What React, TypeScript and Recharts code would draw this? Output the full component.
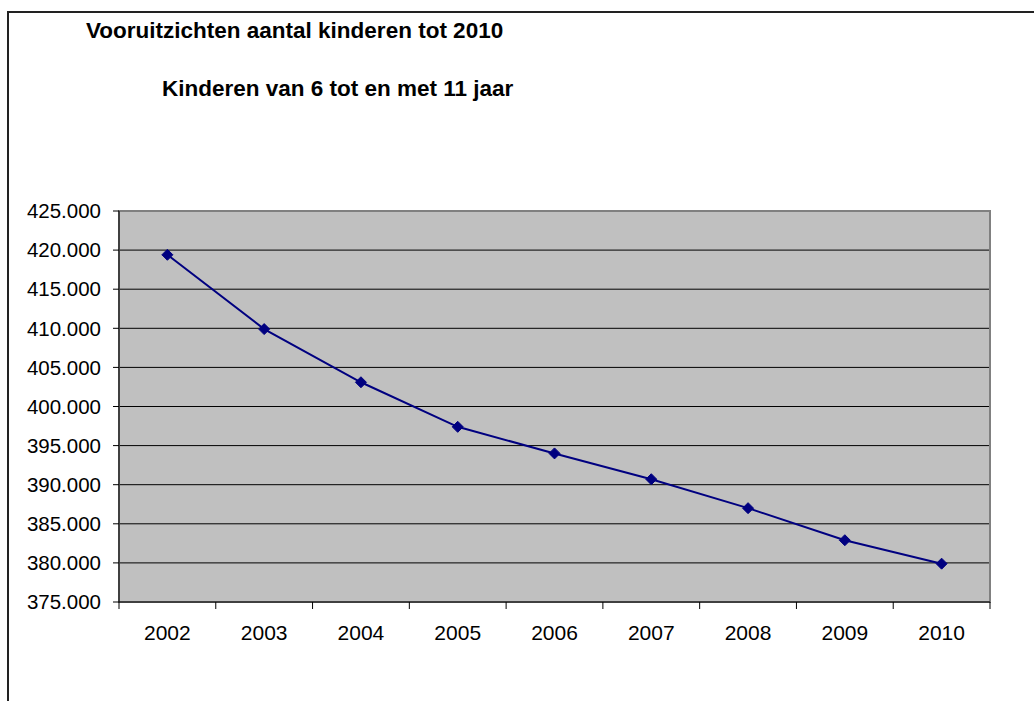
import { LineChart, Line, XAxis, YAxis, CartesianGrid, ReferenceArea } from 'recharts';

const years = [2002, 2003, 2004, 2005, 2006, 2007, 2008, 2009, 2010];
const children = [419400, 409900, 403100, 397400, 394000, 390700, 387000, 382900, 379900];
const yTicks = [375000, 380000, 385000, 390000, 395000, 400000, 405000, 410000, 415000, 420000, 425000];

const data = years.map((year, i) => ({ year, value: children[i] }));

// ticks at the category edges (marks) and centres (labels)
const xTicks = [...years.flatMap((y) => [y - 0.5, y]), years[years.length - 1] + 0.5];

const font = 'Liberation Sans, Arial, sans-serif';

const formatThousands = (v: number) => {
  const k = Math.floor(v / 1000);
  const rest = String(v % 1000).padStart(3, '0');
  return `${k}.${rest}`;
};

// Year labels in the middle, tick marks between categories
const YearTick = (props: any) => {
  const { x, y, payload } = props;
  if (!Number.isInteger(payload.value)) {
    return <line x1={x} y1={y} x2={x} y2={y + 7} stroke="#000" strokeWidth={1} />;
  }
  return (
    <text x={x} y={y + 38} textAnchor="middle" fontSize={21} fontFamily={font} fill="#000">
      {payload.value}
    </text>
  );
};

const Diamond = (props: any) => {
  const { cx, cy } = props;
  const r = 5.5;
  return (
    <polygon
      points={`${cx},${cy - r} ${cx + r},${cy} ${cx},${cy + r} ${cx - r},${cy}`}
      fill="#000080"
      stroke="#000080"
      strokeWidth={1}
    />
  );
};

export default function App() {
  return (
    <div style={{ position: 'absolute', left: 0, top: 0, width: 1034, height: 701, overflow: 'hidden', background: '#fff', fontFamily: font }}>
      <div style={{ position: 'absolute', left: 7, top: 11, width: 1100, height: 800, border: '2px solid #222' }} />
      <div style={{ position: 'absolute', left: 86, top: 20, fontSize: 22.5, lineHeight: 1, fontWeight: 'bold', whiteSpace: 'nowrap' }}>
        Vooruitzichten aantal kinderen tot 2010
      </div>
      <div style={{ position: 'absolute', left: 162, top: 78, fontSize: 22.5, lineHeight: 1, fontWeight: 'bold', whiteSpace: 'nowrap' }}>
        Kinderen van 6 tot en met 11 jaar
      </div>
      <div style={{ position: 'absolute', left: 0, top: 0 }}>
        <LineChart width={1034} height={701} data={data} margin={{ top: 211, right: 44, left: 9, bottom: 69 }}>
          <CartesianGrid vertical={false} stroke="#000" fill="#C0C0C0" fillOpacity={1} />
          <ReferenceArea x1={2001.5} x2={2010.5} y1={375000} y2={425000} fill="none" stroke="#808080" strokeWidth={2} />
          <XAxis
            dataKey="year"
            type="number"
            domain={[2001.5, 2010.5]}
            ticks={xTicks}
            interval={0}
            tickLine={false}
            tickSize={0}
            tickMargin={0}
            height={30}
            axisLine={{ stroke: '#000' }}
            tick={<YearTick />}
          />
          <YAxis
            domain={[375000, 425000]}
            ticks={yTicks}
            interval={0}
            width={110}
            tickFormatter={formatThousands}
            tickSize={6}
            tickMargin={12}
            axisLine={{ stroke: '#000' }}
            tickLine={{ stroke: '#000' }}
            tick={{ fill: '#000', fontSize: 20.5, fontFamily: font }}
          />
          <Line
            type="linear"
            dataKey="value"
            stroke="#000080"
            strokeWidth={2}
            dot={<Diamond />}
            activeDot={false}
            isAnimationActive={false}
          />
        </LineChart>
      </div>
    </div>
  );
}
